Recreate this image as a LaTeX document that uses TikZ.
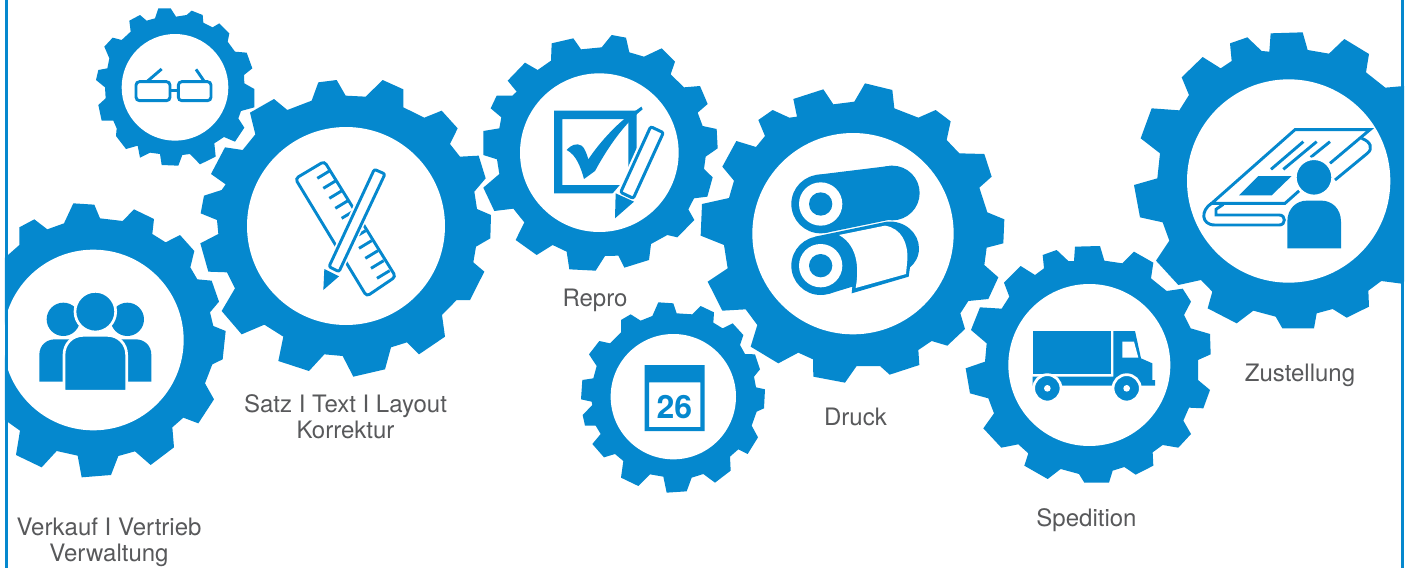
\documentclass[tikz,border=0pt]{standalone}
\usepackage{fontspec}
\setmainfont{TeX Gyre Heros}
\definecolor{gearblue}{HTML}{0588CE}
\definecolor{textgray}{HTML}{58595B}
\tikzset{
	crop/.style 2 args={shift={(#1,#2)},x=0.33333pt,y=-0.33333pt},
	gearhole/.style={fill=white},
	gearlabel/.style={text=textgray,font=\fontsize{24}{26}\selectfont,align=center},
	iconline/.style={draw=gearblue,line width=2.9pt},
	roundline/.style={draw=gearblue,line width=2.9pt,rounded corners=3.5pt},
	whitegap/.style={draw=white,line width=2.7pt,fill=gearblue}
}
\begin{document}
\begin{tikzpicture}[x=1pt,y=-1pt]
	\fill[white] (0,0) rectangle (1409,568);
	\useasboundingbox (0,0) rectangle (1409,568);

	% Verkauf
	\begin{scope}[crop={0}{190}]
		\fill[gearblue] (15,203) -- (58,165) -- (58,112) -- (103,88) -- (142,118) -- (192,100) -- (220,40) -- (283,44) -- (300,85) -- (368,93) -- (402,58) -- (462,87) -- (457,132) -- (497,157) -- (540,135) -- (583,183) -- (571,232) -- (592,268) -- (635,272) -- (657,335) -- (630,367) -- (640,408) -- (677,423) -- (668,508) -- (637,523) -- (615,580) -- (642,628) -- (595,700) -- (550,683) -- (517,712) -- (522,772) -- (452,825) -- (405,784) -- (355,798) -- (333,855) -- (245,862) -- (233,797) -- (170,783) -- (125,832) -- (48,795) -- (60,722) -- (15,690) -- cycle;
		\fill[gearhole] (280,450) circle[radius=271];
		\fill[gearblue] (190,388) circle[radius=50] (382,388) circle[radius=50];
		\fill[gearblue] (118,575) -- (118,495) .. controls (118,465) and (140,448) .. (165,448) -- (407,448) .. controls (432,448) and (454,465) .. (454,495) -- (454,575) -- cycle;
		\fill[whitegap] (286,365) circle[radius=61];
		\fill[whitegap] (192,604) -- (192,495) .. controls (192,460) and (218,436) .. (250,436) -- (322,436) .. controls (354,436) and (380,460) .. (380,495) -- (380,604) -- cycle;
	\end{scope}

	% Brille
	\begin{scope}[crop={90}{0}]
		\fill[gearblue] (205,25) -- (242,25) -- (258,50) -- (290,45) -- (305,32) -- (338,45) -- (340,68) -- (368,82) -- (388,70) -- (418,100) -- (413,125) -- (435,155) -- (470,158) -- (487,205) -- (462,225) -- (463,250) -- (493,267) -- (493,322) -- (453,333) -- (445,355) -- (463,383) -- (435,425) -- (402,411) -- (373,430) -- (377,470) -- (330,493) -- (300,462) -- (277,465) -- (265,497) -- (215,495) -- (210,462) -- (180,458) -- (150,473) -- (143,437) -- (108,447) -- (78,408) -- (80,385) -- (70,362) -- (35,362) -- (25,315) -- (47,295) -- (45,262) -- (18,240) -- (25,210) -- (52,205) -- (58,175) -- (43,140) -- (68,113) -- (95,120) -- (122,95) -- (118,62) -- (150,45) -- (170,62) -- (195,55) -- cycle;
		\fill[gearhole] (255,262) circle[radius=160];
		\draw[roundline] (138,245) rectangle (240,302);
		\draw[roundline] (265,245) rectangle (363,302);
		\draw[iconline] (240,272) -- (265,272);
		\draw[iconline] (173,243) -- (215,207);
		\draw[iconline] (342,243) -- (318,208);
	\end{scope}

	% Satz
	\begin{scope}[crop={195}{75}]
		\fill[gearblue] (370,22) -- (425,15) -- (452,62) -- (512,65) -- (563,15) -- (625,43) -- (625,97) -- (688,128) -- (740,107) -- (788,160) -- (765,207) -- (795,245) -- (851,242) -- (872,310) -- (838,350) -- (846,402) -- (888,420) -- (886,490) -- (843,515) -- (835,562) -- (868,590) -- (825,675) -- (785,675) -- (741,720) -- (750,785) -- (672,838) -- (636,802) -- (588,817) -- (570,883) -- (475,905) -- (443,843) -- (388,838) -- (342,888) -- (250,858) -- (265,785) -- (208,749) -- (140,778) -- (80,708) -- (120,640) -- (96,592) -- (40,590) -- (16,505) -- (70,477) -- (66,435) -- (17,415) -- (27,362) -- (80,345) -- (92,328) -- (48,297) -- (90,217) -- (143,225) -- (181,178) -- (165,113) -- (237,72) -- (277,105) -- (350,77) -- cycle;
		\fill[gearhole] (453,453) circle[radius=297];
		\draw[roundline] (301,311) -- (388,259) -- (602,605) -- (515,664) -- cycle;
		\foreach \x/\y in {367/310,385/340,403/370,421/400,440/430,474/490,492/520,511/550,528/580,546/610}
			\draw[iconline] (\x,\y) -- ++(38,-23);
		\draw[draw=white,line width=6pt,line join=round] (535,283) -- (570,297) -- (432,590) -- (402,575) -- cycle;
		\draw[roundline,fill=white,rounded corners=2pt] (538,283) -- (570,297) -- (432,590) -- (402,575) -- cycle;
		\fill[gearblue] (388,582) -- (432,604) -- (385,645) -- cycle;
	\end{scope}

	% Repro
	\begin{scope}[crop={480}{30}]
		\fill[gearblue] (215,40) -- (280,25) -- (303,58) -- (365,52) -- (395,15) -- (438,23) -- (448,67) -- (492,80) -- (545,55) -- (585,95) -- (572,133) -- (612,172) -- (660,168) -- (683,222) -- (653,248) -- (668,288) -- (710,297) -- (713,355) -- (677,380) -- (672,417) -- (698,442) -- (682,500) -- (642,505) -- (625,538) -- (643,570) -- (592,622) -- (562,615) -- (513,642) -- (507,690) -- (433,713) -- (415,677) -- (375,678) -- (347,722) -- (268,718) -- (260,665) -- (218,645) -- (170,675) -- (107,630) -- (133,577) -- (100,536) -- (43,543) -- (10,473) -- (58,432) -- (51,388) -- (10,375) -- (10,303) -- (58,295) -- (64,262) -- (32,235) -- (50,197) -- (97,197) -- (110,185) -- (83,152) -- (135,98) -- (173,120) -- (213,92) -- cycle;
		\fill[gearhole] (358,368) circle[radius=238];
		\fill[gearblue,even odd rule] (222,242) rectangle (470,490) (247,267) rectangle (445,465);
		\fill[gearblue] (260,360) .. controls (272,345) and (290,338) .. (305,347) .. controls (315,355) and (320,372) .. (325,388) .. controls (360,335) and (420,270) .. (470,240) -- (484,230) -- (488,238) .. controls (440,275) and (390,340) .. (345,423) -- (312,447) .. controls (303,415) and (290,375) .. (260,360) -- cycle;
		\fill[white] (470,355) -- (570,300) -- (470,560) -- (390,500) -- (420,465) -- cycle;
		\draw[roundline,fill=white,rounded corners=2pt,line width=3pt] (512,290) -- (550,308) -- (460,505) -- (422,487) -- cycle;
		\fill[gearblue] (407,490) -- (462,515) -- (405,565) -- cycle;
	\end{scope}

	% Kalender
	\begin{scope}[crop={480}{30}]
		\fill[gearblue] (535,817) -- (580,820) -- (590,850) -- (637,853) -- (662,828) -- (702,847) -- (700,878) -- (728,895) -- (758,880) -- (790,915) -- (780,945) -- (795,972) -- (825,973) -- (840,1018) -- (822,1040) -- (828,1072) -- (855,1078) -- (852,1135) -- (830,1145) -- (815,1187) -- (834,1222) -- (803,1272) -- (775,1258) -- (750,1280) -- (752,1322) -- (705,1358) -- (670,1332) -- (635,1343) -- (620,1384) -- (560,1388) -- (550,1340) -- (510,1333) -- (475,1368) -- (423,1343) -- (430,1293) -- (405,1272) -- (372,1282) -- (337,1242) -- (362,1212) -- (347,1187) -- (315,1187) -- (308,1155) -- (337,1125) -- (335,1115) -- (303,1108) -- (307,1050) -- (340,1045) -- (350,1008) -- (327,973) -- (358,933) -- (390,940) -- (423,907) -- (423,870) -- (452,853) -- (482,872) -- (517,858) -- cycle;
		\fill[gearhole] (580,1100) circle[radius=188];
		\fill[gearblue,even odd rule] (494,1005) rectangle (674,1203) (507,1057) rectangle (661,1191);
		\node[text=gearblue,font=\fontsize{32}{32}\selectfont\bfseries] (datum) at (583,1130) {26};
	\end{scope}

	% Druck
	\begin{scope}[crop={695}{80}]
		\fill[gearblue] (295,57) -- (385,28) -- (415,73) -- (478,65) -- (510,10) -- (592,30) -- (598,85) -- (670,113) -- (722,90) -- (767,124) -- (755,180) -- (793,220) -- (868,222) -- (890,290) -- (853,323) -- (877,397) -- (928,418) -- (925,490) -- (875,503) -- (868,555) -- (910,592) -- (880,657) -- (820,663) -- (796,700) -- (810,747) -- (757,797) -- (710,783) -- (670,810) -- (673,855) -- (584,884) -- (555,858) -- (485,858) -- (450,908) -- (355,890) -- (354,838) -- (310,818) -- (250,850) -- (167,800) -- (187,735) -- (152,688) -- (82,692) -- (38,605) -- (98,565) -- (87,495) -- (17,467) -- (21,372) -- (102,354) -- (117,302) -- (82,260) -- (124,183) -- (183,201) -- (210,168) -- (190,120) -- (233,90) -- (283,113) -- (306,110) -- cycle;
		\fill[gearhole] (474,461) circle[radius=302];
		% untere Rolle
		\fill[gearblue] (377,557) circle[radius=88];
		\fill[gearblue] (360,470) -- (575,425) .. controls (630,420) and (672,460) .. (672,505) .. controls (672,530) and (660,550) .. (645,562) -- (641,590) -- (470,640) -- (472,620) -- (400,642) -- cycle;
		\fill[white] (432,465) -- (570,437) .. controls (620,445) and (640,490) .. (637,540) -- (633,582) -- (482,624) .. controls (490,580) and (495,500) .. (432,465) -- cycle;
		% obere Rolle
		\fill[gearblue] (377,372) circle[radius=88] (592,339) circle[radius=82];
		\fill[gearblue] (362,285) -- (590,257) -- (610,414) -- (395,458) -- cycle;
		\foreach \y in {372,557} {
			\fill[white] (377,\y) circle[radius=65];
			\fill[gearblue] (377,\y) circle[radius=35];
		}
	\end{scope}

	% Spedition
	\begin{scope}[crop={960}{25}]
		\fill[gearblue] (345,665) -- (420,663) -- (433,707) -- (487,715) -- (522,680) -- (580,713) -- (573,760) -- (620,798) -- (668,791) -- (693,830) -- (672,870) -- (692,910) -- (750,927) -- (752,988) -- (714,1005) -- (714,1065) -- (750,1095) -- (730,1150) -- (687,1148) -- (670,1187) -- (693,1227) -- (655,1268) -- (608,1260) -- (578,1282) -- (580,1322) -- (527,1349) -- (493,1326) -- (458,1337) -- (447,1373) -- (373,1373) -- (357,1347) -- (302,1332) -- (263,1362) -- (193,1322) -- (205,1285) -- (175,1258) -- (124,1268) -- (70,1210) -- (102,1165) -- (85,1120) -- (30,1105) -- (17,1030) -- (75,1010) -- (80,955) -- (33,915) -- (60,847) -- (125,851) -- (148,815) -- (132,773) -- (182,723) -- (225,750) -- (252,730) -- (248,690) -- (290,675) -- (325,708) -- (342,708) -- cycle;
		\fill[gearhole] (388,1020) circle[radius=243];
		\fill[gearblue] (218,918) rectangle (453,1047);
		\fill[gearblue] (460,918) -- (525,918) -- (543,1000) -- (577,1015) -- (577,1065) -- (585,1065) -- (585,1082) -- (218,1082) -- (218,1055) -- (460,1055) -- cycle;
		\fill[white] (487,950) -- (522,950) -- (535,998) -- (487,998) -- cycle;
		\foreach \x in {262,500} {
			\fill[whitegap] (\x,1090) circle[radius=41];
			\fill[white] (\x,1090) circle[radius=10];
		}
	\end{scope}

	% Zustellung
	\begin{scope}[crop={960}{25}]
		\fill[gearblue] (932,25) -- (1028,22) -- (1043,75) -- (1107,86) -- (1153,42) -- (1227,87) -- (1218,142) -- (1276,188) -- (1332,183) -- (1332,770) -- (1325,776) -- (1264,768) -- (1225,797) -- (1227,845) -- (1160,878) -- (1118,852) -- (1070,865) -- (1062,910) -- (967,910) -- (947,875) -- (880,857) -- (830,895) -- (743,850) -- (757,800) -- (723,765) -- (655,780) -- (588,707) -- (628,647) -- (608,592) -- (540,577) -- (522,480) -- (592,460) -- (600,385) -- (542,340) -- (575,250) -- (658,256) -- (687,210) -- (665,157) -- (728,96) -- (782,130) -- (815,108) -- (810,55) -- (862,37) -- (905,78) -- (928,80) -- cycle;
		\fill[gearhole] (986,468) circle[radius=305];
		\draw[iconline] (1020,495) -- (975,535) -- (755,535) -- (1005,314) -- (1230,314) -- (1110,415);
		\draw[iconline] (1205,340) .. controls (1232,350) and (1240,370) .. (1222,385) -- (1125,465);
		\draw[iconline] (755,535) .. controls (722,555) and (722,600) .. (765,600) -- (958,600) .. controls (978,600) and (978,570) .. (958,570) -- (768,570) -- (768,553) -- (790,538);
		\draw[iconline] (1030,350) -- (933,433);
		\draw[iconline] (1070,350) -- (970,433);
		\draw[iconline] (1110,350) -- (1052,397);
		\fill[gearblue] (895,453) -- (995,453) -- (935,511) -- (837,511) -- cycle;
		\fill[whitegap] (1062,457) circle[radius=56];
		\fill[gearblue] (982,670) -- (982,590) .. controls (982,550) and (1010,527) .. (1040,527) -- (1085,527) .. controls (1115,527) and (1143,550) .. (1143,590) -- (1143,670) -- cycle;
	\end{scope}

	% Rahmen
	\coordinate (lo) at (6.3,0);
	\coordinate (lu) at (6.3,568);
	\coordinate (ro) at (1402.5,0);
	\coordinate (ru) at (1402.5,568);
	\draw[gearblue,line width=2.8pt] (lo) -- (lu);
	\draw[gearblue,line width=2.8pt] (ro) -- (ru);

	\node[gearlabel] (verkauf) at (109,542) {Verkauf I Vertrieb\\Verwaltung};
	\node[gearlabel] (satz) at (345.5,416.5) {Satz I Text I Layout\\Korrektur};
	\node[gearlabel] (repro) at (595,300) {Repro};
	\node[gearlabel] (druck) at (855.5,416.5) {Druck};
	\node[gearlabel] (spedition) at (1086.5,520) {Spedition};
	\node[gearlabel] (zustellung) at (1300,375) {Zustellung};
\end{tikzpicture}
\end{document}
